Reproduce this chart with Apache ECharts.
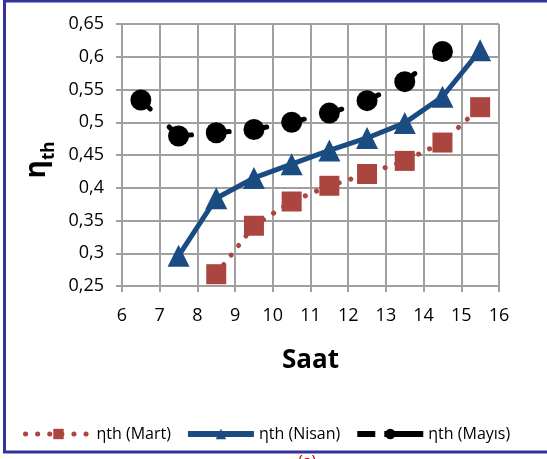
<!DOCTYPE html>
<html>
<head>
<meta charset="utf-8">
<script src="https://cdn.jsdelivr.net/npm/echarts@6/dist/echarts.min.js"></script>
<style>
  html,body{margin:0;padding:0;background:#fff;}
  #chart{width:547px;height:459px;}
</style>
</head>
<body>
<div id="chart"></div>
<script>
// saat (x) ve verim degerleri
var martSaat = [8.5, 9.5, 10.5, 11.5, 12.5, 13.5, 14.5, 15.5];
var martVal = [0.268, 0.342, 0.379, 0.403, 0.421, 0.441, 0.469, 0.523];
var nisanSaat = [7.5, 8.5, 9.5, 10.5, 11.5, 12.5, 13.5, 14.5, 15.5];
var nisanVal = [0.296, 0.384, 0.415, 0.436, 0.457, 0.476, 0.499, 0.539, 0.610];
var mayisSaat = [6.5, 7.5, 8.5, 9.5, 10.5, 11.5, 12.5, 13.5, 14.5];
var mayisVal = [0.534, 0.479, 0.484, 0.489, 0.500, 0.514, 0.533, 0.562, 0.608];
var seriesNames = ['ηth (Mart)', 'ηth (Nisan)', 'ηth (Mayıs)'];

function pairs(xs, ys) {
    return xs.map(function (x, i) { return [x, ys[i]]; });
}
// Mayis cizgisi: her parca ayri ciziliyor ki kesik cizgi her noktada yeniden baslasin
function segments(xs, ys) {
    var out = [];
    for (var i = 0; i < xs.length - 1; i++) {
        out.push({ coords: [[xs[i], ys[i]], [xs[i + 1], ys[i + 1]]] });
    }
    return out;
}

var chart = echarts.init(document.getElementById('chart'));
var font = '"Open Sans", sans-serif';
var gray = '#a0a0a0';
var option = {
    animation: false,
    textStyle: { fontFamily: font },
    grid: { left: 122, right: 48, top: 24, bottom: 173 },
    legend: {
        left: 18,
        top: 421,
        itemWidth: 66,
        itemHeight: 13,
        itemGap: 14,
        textStyle: { fontFamily: font, fontSize: 16, color: '#000' },
        data: [
            { name: seriesNames[0], lineStyle: { width: 5, type: [0.1, 12], cap: 'round' } },
            { name: seriesNames[1], lineStyle: { width: 6 } },
            { name: seriesNames[2], lineStyle: { width: 6, opacity: 1, type: [18, 9, 39, 0] } }
        ]
    },
    xAxis: {
        type: 'value',
        min: 6, max: 16, interval: 1,
        name: 'Saat',
        nameLocation: 'middle',
        nameGap: 62,
        nameTextStyle: { fontFamily: font, fontSize: 26, fontWeight: 'bold', color: '#000' },
        axisLine: { lineStyle: { color: gray, width: 2 } },
        axisTick: { show: true, length: 6, lineStyle: { color: gray, width: 2 } },
        axisLabel: { fontSize: 18, color: '#000', margin: 21 },
        splitLine: { show: true, lineStyle: { color: gray, width: 2 } }
    },
    yAxis: {
        type: 'value',
        min: 0.25, max: 0.65, interval: 0.05,
        name: '{a|η}{b|th}',
        nameLocation: 'middle',
        nameRotate: 90,
        nameGap: 61,
        nameTextStyle: {
            padding: [0, 10, 0, 0],
            rich: {
                a: { fontFamily: font, fontSize: 28, fontWeight: 'bold', color: '#000', lineHeight: 30 },
                b: { fontFamily: font, fontSize: 17, fontWeight: 'bold', color: '#000', verticalAlign: 'bottom', lineHeight: 30, padding: [0, 0, -6, 0] }
            }
        },
        axisLine: { show: true, lineStyle: { color: gray, width: 2 } },
        axisTick: { show: true, length: 6, lineStyle: { color: gray, width: 2 } },
        axisLabel: {
            fontSize: 18, color: '#000', margin: 18,
            formatter: function (v) { return String(+v.toFixed(2)).replace('.', ','); }
        },
        splitLine: { show: true, lineStyle: { color: gray, width: 2 } }
    },
    series: [{
        name: seriesNames[2],
        type: 'line',
        z: 3,
        data: pairs(mayisSaat, mayisVal),
        symbol: 'circle',
        symbolSize: 21,
        itemStyle: { color: '#000' },
        lineStyle: { color: '#000', width: 5, opacity: 0 }
    }, {
        type: 'lines',
        coordinateSystem: 'cartesian2d',
        z: 2,
        silent: true,
        data: segments(mayisSaat, mayisVal),
        lineStyle: { color: '#000', width: 5, type: [13, 26], cap: 'round', opacity: 1 }
    }, {
        name: seriesNames[0],
        type: 'line',
        z: 4,
        data: pairs(martSaat, martVal),
        symbol: 'rect',
        symbolSize: 20,
        itemStyle: { color: '#ab4540' },
        lineStyle: { color: '#ab4540', width: 5, type: [0.1, 12], cap: 'round' }
    }, {
        name: seriesNames[1],
        type: 'line',
        z: 5,
        data: pairs(nisanSaat, nisanVal),
        symbol: 'triangle',
        symbolSize: 22,
        itemStyle: { color: '#1a4c82' },
        lineStyle: { color: '#1a4c82', width: 5 }
    }],
    graphic: [{
        // cerceve
        type: 'rect',
        shape: { x: 4.5, y: 1, width: 560, height: 451 },
        style: { fill: 'none', stroke: '#34339a', lineWidth: 3 }
    }, {
        type: 'text',
        left: 298, top: 454,
        style: { text: '(a)', fill: '#c00000', font: '16px ' + font }
    }]
};
chart.setOption(option);
</script>
</body>
</html>
